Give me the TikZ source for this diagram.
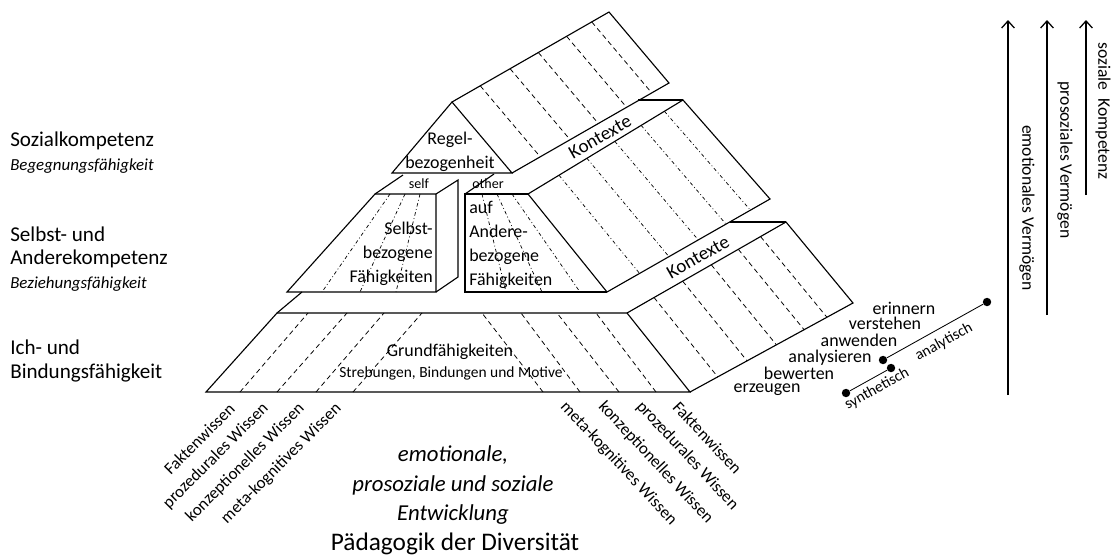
\documentclass[tikz,border=0pt]{standalone}
\usepackage{fontspec}
\setmainfont{Carlito}
\usetikzlibrary{arrows.meta, calc}

\begin{document}
\begin{tikzpicture}[x=0.025cm, y=-0.025cm,
  every node/.style={inner sep=0pt},
  edge/.style={line width=0.8pt, line join=miter},
  dashln/.style={line width=0.55pt, dash pattern=on 3.5pt off 2.5pt},
  dotln/.style={line width=0.5pt, dash pattern=on 2.5pt off 1.8pt on 0.6pt off 1.8pt},
  side/.style={font=\fontsize{15}{18}\selectfont, anchor=west},
  sidesub/.style={font=\fontsize{12}{14}\selectfont\itshape, anchor=west},
  block/.style={font=\fontsize{12.75}{17}\selectfont},
  tag/.style={font=\fontsize{10}{12}\selectfont},
  ctx/.style={font=\fontsize{13.5}{16}\selectfont},
  wissen/.style={font=\fontsize{12}{14}\selectfont},
  stufe/.style={font=\fontsize{12.75}{15}\selectfont},
  achse/.style={font=\fontsize{12.5}{15}\selectfont, rotate=-90},
  arr/.style={line width=0.9pt, -{Straight Barb[length=5pt,width=9pt]}},
  dot/.style={circle, fill, minimum size=6pt},
  thinln/.style={line width=0.6pt}]
\useasboundingbox (0,0) rectangle (1112,555);

% corner points
\coordinate (P0) at (452,102);
\coordinate (P1) at (609,12);
\coordinate (P2) at (669,83);
\coordinate (P3) at (512,173);
\coordinate (T0) at (392,173);
\coordinate (U) at (638,100);
\coordinate (Q0) at (528,194);
\coordinate (Q1) at (683,100);
\coordinate (Q2) at (770,199);
\coordinate (Q3) at (607,292);
\coordinate (L) at (730,222);
\coordinate (R0) at (627,313);
\coordinate (R1) at (786,222);
\coordinate (R2) at (853,303);
\coordinate (R3) at (690,392);
\coordinate (S0) at (287,292);
\coordinate (S1) at (375,194);
\coordinate (S2) at (436,194);
\coordinate (S3) at (436,292);
\coordinate (S4) at (458,180);
\coordinate (S5) at (458,277);
\coordinate (S6) at (403,175);
\coordinate (A0) at (465,292);
\coordinate (A1) at (465,194);
\coordinate (A2) at (494,174);
\coordinate (B0) at (206,392);
\coordinate (B1) at (277,313);
\coordinate (B2) at (302,292);

% top level
\draw[edge] (P0) -- (P1) -- (P2) -- (P3);
\draw[edge] (T0) -- (P0) -- (P3) -- cycle;
\draw[edge] (U) -- (Q1);
% middle level
\draw[edge] (Q0) -- (Q1) -- (Q2) -- (Q3) -- cycle;
\draw[edge] (Q3) -- (A0) -- (A1) -- (Q0);
\draw[edge] (A1) -- (A2);
\draw[edge] (S0) -- (S1) -- (S2) -- (S3) -- cycle;
\draw[edge] (S2) -- (S4) -- (S5) -- (S3);
\draw[edge] (S1) -- (S6);
% bottom level
\draw[edge] (B0) -- (B1) -- (R0) -- (R3) -- cycle;
\draw[edge] (B1) -- (B2);
\draw[edge] (L) -- (R1);
\draw[edge] (R0) -- (R1) -- (R2) -- (R3);

% context slabs
\foreach \t in {0.18,0.37,0.55,0.73,0.89}
  \draw[dashln] ($(P0)!\t!(P1)$) -- ($(P3)!\t!(P2)$);
\foreach \t in {0.2,0.38,0.56,0.73,0.88}
  \draw[dotln] ($(Q0)!\t!(Q1)$) -- ($(Q3)!\t!(Q2)$);
\foreach \t in {0.17,0.35,0.53,0.7,0.84}
  \draw[dashln] ($(R0)!\t!(R1)$) -- ($(R3)!\t!(R2)$);

% knowledge lines
\foreach \a/\b in {390/322, 405/360, 420/396}
  \draw[dotln] (\a,194) -- (\b,292);
\foreach \a/\b in {482/506, 497/542, 512/580}
  \draw[dotln] (\a,194) -- (\b,292);
\foreach \a/\b in {240/308, 277/347, 316/384, 353/422}
  \draw[dashln] (\a,392) -- (\b,313);
\foreach \a/\b in {543/482, 580/521, 619/557, 656/596}
  \draw[dashln] (\a,392) -- (\b,313);

% texts in the pyramid
\node[block, align=center] (regel) at (450,152) {Regel-\\bezogenheit};
\node[tag] (self) at (419,184) {self};
\node[tag] (other) at (488,184) {other};
\node[block, align=right, anchor=east] (selbst) at (433,254) {Selbst-\\bezogene\\Fähigkeiten};
\node[block, align=left, anchor=west] (andere) at (469,245) {auf\\Andere-\\bezogene\\Fähigkeiten};
\node[block] (grund) at (450,352) {Grundfähigkeiten};
\node[font=\fontsize{11}{13}\selectfont] (streb) at (451,373) {Strebungen, Bindungen und Motive};
\node[ctx, rotate=29.7] (kont1) at (600,137) {Kontexte};
\node[ctx, rotate=29.5] (kont2) at (698,257) {Kontexte};

% levels
\node[side] (soz) at (10,141) {Sozialkompetenz};
\node[sidesub] (beg) at (10,166) {Begegnungsfähigkeit};
\node[side] (sa1) at (10,234) {Selbst- und};
\node[side] (sa2) at (10,259) {Anderekompetenz};
\node[sidesub] (bez) at (10,284) {Beziehungsfähigkeit};
\node[side] (ich1) at (10,347) {Ich- und};
\node[side] (ich2) at (10,373) {Bindungsfähigkeit};

% knowledge
\node[wissen, rotate=45, anchor=east] (wl1) at (232,406) {Faktenwissen};
\node[wissen, rotate=45, anchor=east] (wl2) at (266,406) {prozedurales Wissen};
\node[wissen, rotate=45, anchor=east] (wl3) at (302,406) {konzeptionelles Wissen};
\node[wissen, rotate=45, anchor=east] (wl4) at (339,406) {meta-kognitives Wissen};
\node[wissen, rotate=-47, anchor=west] (wr4) at (563,404) {meta-kognitives Wissen};
\node[wissen, rotate=-47, anchor=west] (wr3) at (601,404) {konzeptionelles Wissen};
\node[wissen, rotate=-47, anchor=west] (wr2) at (639,404) {prozedurales Wissen};
\node[wissen, rotate=-47, anchor=west] (wr1) at (676,404) {Faktenwissen};

% centre
\node[font=\fontsize{16.2}{19}\selectfont\itshape] (ent1) at (453,455) {emotionale,};
\node[font=\fontsize{16.2}{19}\selectfont\itshape] (ent2) at (453,485) {prosoziale und soziale};
\node[font=\fontsize{16.2}{19}\selectfont\itshape] (ent3) at (453,515) {Entwicklung};
\node[font=\fontsize{18}{21}\selectfont] (paed) at (455,544) {Pädagogik der Diversität};

% cognitive processes
\node[stufe] (st1) at (904,308) {erinnern};
\node[stufe] (st2) at (885,323) {verstehen};
\node[stufe] (st3) at (859,340) {anwenden};
\node[stufe] (st4) at (830,358) {analysieren};
\node[stufe] (st5) at (799,373) {bewerten};
\node[stufe] (st6) at (767,390) {erzeugen};
\node[dot] (d1) at (987,302) {};
\node[dot] (d2) at (883,360) {};
\node[dot] (d3) at (891,368) {};
\node[dot] (d4) at (846,393) {};
\draw[thinln] (d2) -- (d1);
\draw[thinln] (d4) -- (d3);
\node[font=\fontsize{11}{13}\selectfont, rotate=29] (ana) at (944,342) {analytisch};
\node[font=\fontsize{11}{13}\selectfont, rotate=29] (syn) at (877,389) {synthetisch};

% development axes
\coordinate (e0) at (1008,395);
\coordinate (e1) at (1008,20);
\coordinate (p0) at (1047,315);
\coordinate (p1) at (1047,20);
\coordinate (k0) at (1086,195);
\coordinate (k1) at (1086,20);
\draw[arr] (e0) -- (e1);
\draw[arr] (p0) -- (p1);
\draw[arr] (k0) -- (k1);
\node[achse] (emo) at (1027,208) {emotionales Vermögen};
\node[achse] (pro) at (1065,160) {prosoziales Vermögen};
\node[achse] (sozk) at (1103,111) {soziale\ \ Kompetenz};
\end{tikzpicture}
\end{document}
